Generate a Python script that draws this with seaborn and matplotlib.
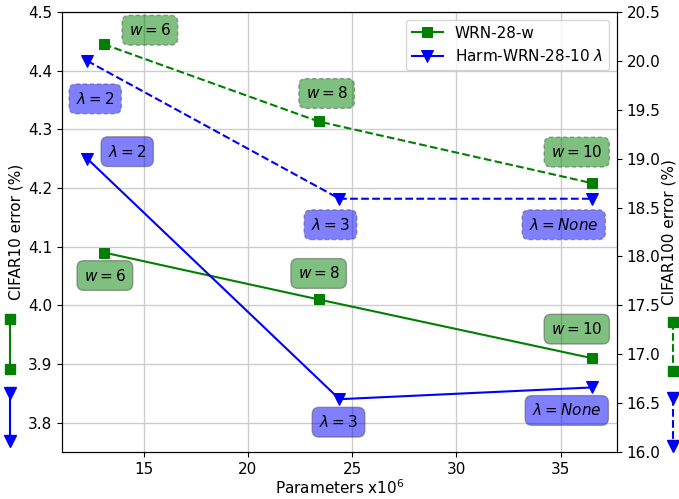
import matplotlib
matplotlib.use("Agg")
import matplotlib.pyplot as plt
from matplotlib.lines import Line2D
import pandas as pd
import seaborn as sns

# data
params_wrn = [13.1, 23.4, 36.5]
params_harm = [12.3, 24.4, 36.5]
c10_wrn = [4.09, 4.01, 3.91]
c10_harm = [4.25, 3.84, 3.86]
c100_wrn = [20.17, 19.38, 18.75]
c100_harm = [20.0, 18.59, 18.59]
wrn_labels = ["$w=6$", "$w=8$", "$w=10$"]
harm_labels = [r"$\lambda=2$", r"$\lambda=3$", r"$\lambda=None$"]

# label offsets (pixels) relative to each point
off_c10_wrn = [(1, -23), (0, 26), (-15, 29)]
off_c10_harm = [(40, 7), (-1, -23), (-25, -23)]
off_c100_wrn = [(46, 14), (8, 28), (-15, 31)]
off_c100_harm = [(8, -38), (-9, -26), (-28, -26)]

GREEN = "green"
BLUE = "blue"

plt.rcParams["font.size"] = 11

df_wrn = pd.DataFrame({"params": params_wrn, "c10": c10_wrn, "c100": c100_wrn})
df_harm = pd.DataFrame({"params": params_harm, "c10": c10_harm, "c100": c100_harm})

fig = plt.figure(figsize=(6.79, 4.99), dpi=100)
ax = fig.add_axes([0.0913, 0.0942, 0.8174, 0.8818])
ax2 = ax.twinx()

sns.lineplot(data=df_wrn, x="params", y="c10", ax=ax, color=GREEN, marker="s",
             markersize=7, markeredgecolor=GREEN, label="WRN-28-w", legend=False)
sns.lineplot(data=df_harm, x="params", y="c10", ax=ax, color=BLUE, marker="v",
             markersize=8, markeredgecolor=BLUE, label=r"Harm-WRN-28-10 $\lambda$", legend=False)
sns.lineplot(data=df_wrn, x="params", y="c100", ax=ax2, color=GREEN, marker="s",
             markersize=7, markeredgecolor=GREEN, linestyle="--", legend=False)
sns.lineplot(data=df_harm, x="params", y="c100", ax=ax2, color=BLUE, marker="v",
             markersize=8, markeredgecolor=BLUE, linestyle="--", legend=False)


def add_labels(axis, xs, ys, labels, offsets, color, ls):
    for x, y, lab, off in zip(xs, ys, labels, offsets):
        axis.annotate(lab, xy=(x, y), xytext=off, textcoords="offset pixels",
                      ha="center", va="center", fontsize=11,
                      bbox=dict(boxstyle="round,pad=0.45", fc=color, ec="#505050",
                                alpha=0.5, linestyle=ls, linewidth=1.0))


add_labels(ax, params_wrn, c10_wrn, wrn_labels, off_c10_wrn, GREEN, "-")
add_labels(ax, params_harm, c10_harm, harm_labels, off_c10_harm, BLUE, "-")
add_labels(ax2, params_wrn, c100_wrn, wrn_labels, off_c100_wrn, GREEN, (0, (3, 2)))
add_labels(ax2, params_harm, c100_harm, harm_labels, off_c100_harm, BLUE, (0, (3, 2)))

ax.set_ylim(3.75, 4.5)
ax2.set_ylim(16.0, 20.5)
ax.set_xlabel(r"Parameters x$10^6$", labelpad=1)
ax.set_ylabel("CIFAR10 error (%)", labelpad=3)
ax2.set_ylabel("CIFAR100 error (%)", labelpad=1)
ax.grid(True, color="#cccccc", linewidth=1.0)
ax.set_axisbelow(True)

handles, labels = ax.get_legend_handles_labels()
ax2.legend(handles, labels, loc="upper right")

# small key marks beside each y axis
for x, ls in [(0.0147, "-"), (0.991, "--")]:
    fig.add_artist(Line2D([x, x], [0.3607 if ls == "-" else 0.3547, 0.2605 if ls == "-" else 0.2565],
                          color=GREEN, marker="s", markersize=7, linestyle=ls,
                          transform=fig.transFigure))
    fig.add_artist(Line2D([x, x], [0.2124 if ls == "-" else 0.2024, 0.1162 if ls == "-" else 0.1062],
                          color=BLUE, marker="v", markersize=8, linestyle=ls,
                          transform=fig.transFigure))

fig.savefig("out.png", dpi=100)
